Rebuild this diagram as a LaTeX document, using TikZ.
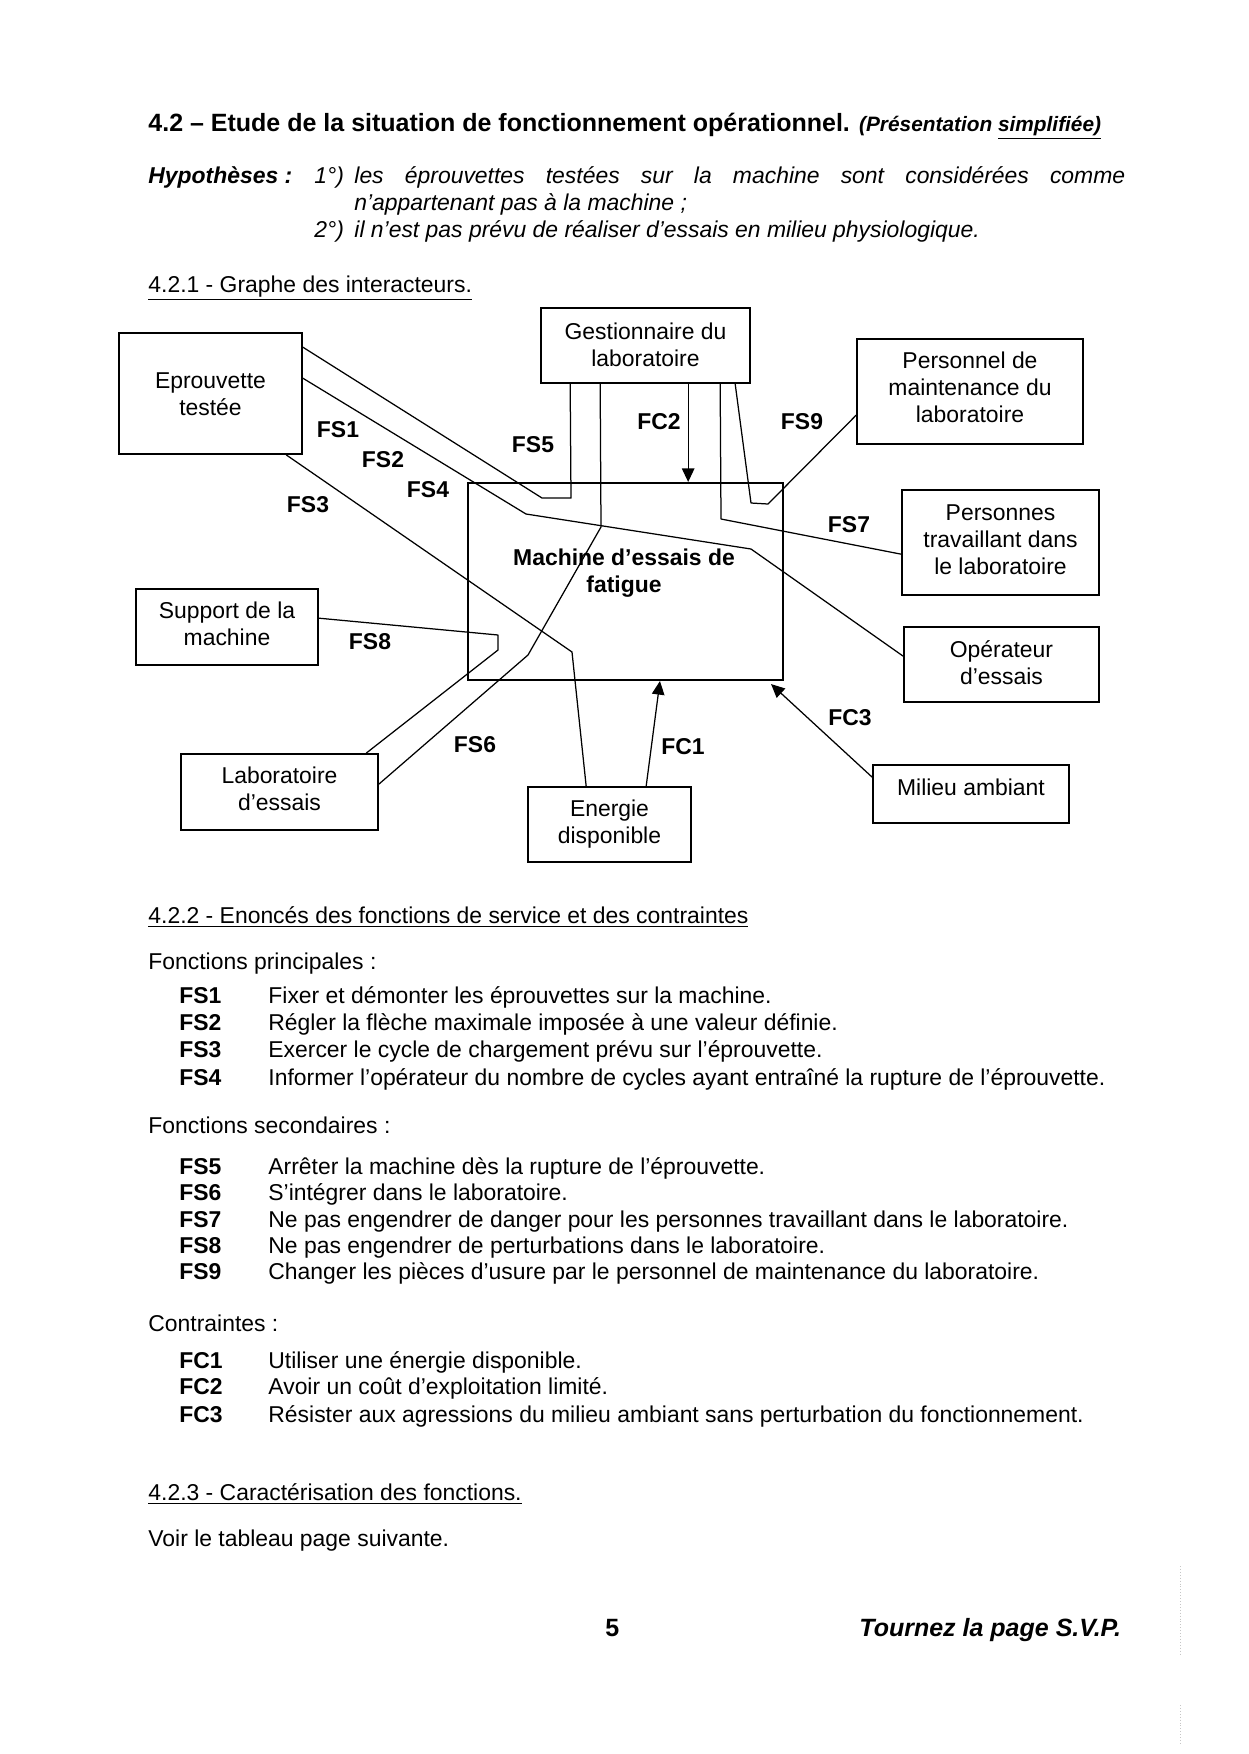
\documentclass[tikz,border=0pt]{standalone}
\usepackage{fontspec}
\setmainfont{Liberation Sans}
\usetikzlibrary{arrows.meta,fit,calc}
\begin{document}
\begin{tikzpicture}[x=0.48pt,y=-0.48pt,
  box/.style={draw, line width=0.8pt, inner sep=0pt},
  btx2/.style={inner sep=0pt, align=center, font=\fontsize{11}{13}\selectfont},
  lnk/.style={line width=0.6pt, line join=round},
  arr/.style={line width=0.6pt, -{Triangle[length=6.5pt,width=6pt]}},
  lbl/.style={inner sep=0pt, font=\fontsize{11}{13}\selectfont\bfseries},
  txt/.style={anchor=base west, inner sep=0pt, font=\fontsize{11}{13}\selectfont},
  itx/.style={txt, font=\fontsize{11}{13}\selectfont\itshape},
  btx/.style={txt, font=\fontsize{11}{13}\selectfont\bfseries},
]
\useasboundingbox[fill=white] (0,0) rectangle (1248,1754);

% ---------- header ----------
\node[txt, font=\fontsize{12}{14}\selectfont\bfseries] (title) at (148,131)
  {4.2 – Etude de la situation de fonctionnement opérationnel. {\fontsize{10}{11}\selectfont\itshape (Présentation \underline{simplifiée)}}};
\node[txt, font=\fontsize{11}{13}\selectfont\bfseries\itshape] (hyp) at (148,183) {Hypothèses :};
\node[itx] (h1) at (314,183) {1°)};
\node[itx] (h1t) at (354,183) {\makebox[370pt][s]{les éprouvettes testées sur la machine sont considérées comme}};
\node[itx] (h1u) at (354,210) {n’appartenant pas à la machine ;};
\node[itx] (h2) at (314,237) {2°)};
\node[itx] (h2t) at (354,237) {il n’est pas prévu de réaliser d’essais en milieu physiologique.};
\node[txt] (s421) at (148,292) {\underline{4.2.1 - Graphe des interacteurs.}};

% ---------- boxes ----------
\node[box, fit={(119,333) (302,454)}] (ep) {};
\node[btx2] (ept) at ($(ep.center)+(0,1)$) {Eprouvette\\testée};
\node[box, fit={(541,308) (750,383)}] (gest) {};
\node[btx2] (gestt) at ($(gest.center)+(0,-1)$) {Gestionnaire du\\laboratoire};
\node[box, fit={(857,339) (1083,444)}] (perso) {};
\node[btx2] (persot) at ($(perso.center)+(0,-4)$) {Personnel de\\maintenance du\\laboratoire};
\node[box, fit={(902,490) (1099,595)}] (pers) {};
\node[btx2] (perst) at ($(pers.center)+(0,-3)$) {Personnes\\travaillant dans\\le laboratoire};
\node[box, line width=1pt, fit={(468,483) (783,680)}] (mach) {};
\node[lbl, align=center] (machtxt) at (624,573) {Machine d’essais de\\fatigue};
\node[box, fit={(136,589) (318,665)}] (sup) {};
\node[btx2] (supt) at ($(sup.center)+(0,-3)$) {Support de la\\machine};
\node[box, fit={(904,627) (1099,702)}] (op) {};
\node[btx2] (opt) at ($(op.center)+(0,-2)$) {Opérateur\\d’essais};
\node[box, fit={(181,754) (378,830)}] (lab) {};
\node[btx2] (labt) at ($(lab.center)+(0,-3)$) {Laboratoire\\d’essais};
\node[box, fit={(528,787) (691,862)}] (en) {};
\node[btx2] (ent) at ($(en.center)+(0,0)$) {Energie\\disponible};
\node[box, fit={(873,765) (1069,823)}] (mil) {};
\node[btx2] (milt) at ($(mil.center)+(0,-7)$) {Milieu ambiant};

% ---------- bend points ----------
\coordinate (b1a) at (542,498);
\coordinate (b1b) at (571,498);
\coordinate (b2a) at (526,514);
\coordinate (b2b) at (751,549);
\coordinate (b3a) at (572,652);
\coordinate (b6a) at (601,527);
\coordinate (b6b) at (528,655);
\coordinate (b7a) at (721,519);
\coordinate (b9a) at (751,503);
\coordinate (b9b) at (768,504);
\coordinate (b8a) at (498,635);
\coordinate (b8b) at (498,650);

% ---------- connectors ----------
% FS1 / FS5
\draw[lnk] ($(ep.north east)+(0,15)$) -- (b1a) -- (b1b) -- ($(gest.south west)+(30,0)$);
% FS2 / FS4
\draw[lnk] ($(ep.north east)+(0,46)$) -- (b2a) -- (b2b) -- ($(op.north west)+(0,30)$);
% FS3
\draw[lnk] ($(ep.south west)+(168,0)$) -- (b3a) -- ($(en.north west)+(59,0)$);
% FS6
\draw[lnk] ($(gest.south west)+(60,0)$) -- (b6a) -- (b6b) -- ($(lab.north east)+(0,31)$);
% FC2
\coordinate (fc2a) at ($(gest.south west)+(148,0)$);
\draw[arr] (fc2a) -- (fc2a |- mach.north);
% FS7
\draw[lnk] ($(gest.south west)+(180,0)$) -- (b7a) -- ($(pers.north west)+(0,65)$);
% FS9
\draw[lnk] ($(gest.south west)+(195,0)$) -- (b9a) -- (b9b) -- ($(perso.north west)+(0,77)$);
% FS8
\draw[lnk] ($(sup.north east)+(0,30)$) -- (b8a) -- (b8b) -- ($(lab.north west)+(186,0)$);
% FC1
\draw[arr] ($(en.north west)+(119,0)$) -- ($(mach.south west)+(193,0)$);
% FC3
\draw[arr] ($(mil.north west)+(0,13)$) -- ($(mach.south east)+(-13,3)$);

% ---------- labels ----------
\node[lbl] (lfs1) at (338,430) {FS1};
\node[lbl] (lfs2) at (383,460) {FS2};
\node[lbl] (lfs4) at (428,490) {FS4};
\node[lbl] (lfs3) at (308,505) {FS3};
\node[lbl] (lfs5) at (533,445) {FS5};
\node[lbl] (lfc2) at (659,422) {FC2};
\node[lbl] (lfs9) at (802,422) {FS9};
\node[lbl] (lfs7) at (849,525) {FS7};
\node[lbl] (lfs8) at (370,642) {FS8};
\node[lbl] (lfs6) at (475,745) {FS6};
\node[lbl] (lfc1) at (683,747) {FC1};
\node[lbl] (lfc3) at (850,718) {FC3};

% ---------- text part ----------
\node[txt] (s422) at (148,923) {\underline{4.2.2 - Enoncés des fonctions de service et des contraintes}};
\node[txt] (fp) at (148,969) {Fonctions principales :};
\node[btx] (k1) at (179,1003) {FS1}; \node[txt] (d1) at (268,1003) {Fixer et démonter les éprouvettes sur la machine.};
\node[btx] (k2) at (179,1030) {FS2}; \node[txt] (d2) at (268,1030) {Régler la flèche maximale imposée à une valeur définie.};
\node[btx] (k3) at (179,1057) {FS3}; \node[txt] (d3) at (268,1057) {Exercer le cycle de chargement prévu sur l’éprouvette.};
\node[btx] (k4) at (179,1085) {FS4}; \node[txt] (d4) at (268,1085) {Informer l’opérateur du nombre de cycles ayant entraîné la rupture de l’éprouvette.};
\node[txt] (fsec) at (148,1133) {Fonctions secondaires :};
\node[btx] (k5) at (179,1174) {FS5}; \node[txt] (d5) at (268,1174) {Arrêter la machine dès la rupture de l’éprouvette.};
\node[btx] (k6) at (179,1200) {FS6}; \node[txt] (d6) at (268,1200) {S’intégrer dans le laboratoire.};
\node[btx] (k7) at (179,1227) {FS7}; \node[txt] (d7) at (268,1227) {Ne pas engendrer de danger pour les personnes travaillant dans le laboratoire.};
\node[btx] (k8) at (179,1253) {FS8}; \node[txt] (d8) at (268,1253) {Ne pas engendrer de perturbations dans le laboratoire.};
\node[btx] (k9) at (179,1279) {FS9}; \node[txt] (d9) at (268,1279) {Changer les pièces d’usure par le personnel de maintenance du laboratoire.};
\node[txt] (ctr) at (148,1331) {Contraintes :};
\node[btx] (c1) at (179,1368) {FC1}; \node[txt] (e1) at (268,1368) {Utiliser une énergie disponible.};
\node[btx] (c2) at (179,1394) {FC2}; \node[txt] (e2) at (268,1394) {Avoir un coût d’exploitation limité.};
\node[btx] (c3) at (179,1422) {FC3}; \node[txt] (e3) at (268,1422) {Résister aux agressions du milieu ambiant sans perturbation du fonctionnement.};
\node[txt] (s423) at (148,1500) {\underline{4.2.3 - Caractérisation des fonctions.}};
\node[txt] (voir) at (148,1546) {Voir le tableau page suivante.};
\node[txt, font=\fontsize{12}{14}\selectfont\bfseries] (pg) at (605,1636) {5};
\node[txt, font=\fontsize{12}{14}\selectfont\bfseries\itshape] (svp) at (859,1636) {Tournez la page S.V.P.};

% scan marks at right edge
\draw[gray!45, densely dotted, line width=0.4pt] (1180,1566) -- (1180,1655);
\draw[gray!45, densely dotted, line width=0.4pt] (1180,1705) -- (1180,1745);
\end{tikzpicture}
\end{document}
